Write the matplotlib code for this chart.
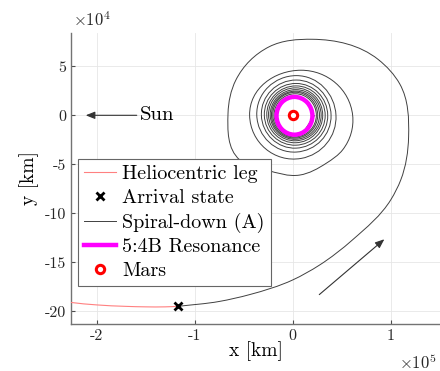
import numpy as np
import matplotlib

matplotlib.use("Agg")
import matplotlib.pyplot as plt
from matplotlib.path import Path
from matplotlib.patches import PathPatch, Ellipse
from matplotlib.lines import Line2D
from matplotlib.ticker import MultipleLocator, FuncFormatter

plt.rcParams["font.family"] = "cmr10"
plt.rcParams["mathtext.fontset"] = "cm"
plt.rcParams["axes.unicode_minus"] = False

UNIT = 1e4  # waypoints below are in 1e4 km

# heliocentric leg up to the arrival state
helio_x = [-24.0, -22.6, -20.0, -17.0, -15.0, -13.0, -11.7]
helio_y = [-18.9, -19.1, -19.35, -19.5, -19.55, -19.55, -19.5]
arrival_x = -11.7
arrival_y = -19.5

# capture arc and first revolution of the spiral-down
capture_x = [-11.7, -7.5, -4.4, 0.0, 2.7, 6.1, 10.0, 11.0, 11.8, 10.9, 8.7,
             2.0, -2.4, -5.8, -6.6, -5.4, -2.7, 0.7, 3.4, 5.1]
capture_y = [-19.5, -19.0, -18.3, -16.8, -15.3, -12.7, -8.6, -6.6, -2.2, 3.2, 5.7,
             7.76, 7.0, 3.6, 0.2, -4.56, -5.58, -6.1, -4.9, -3.5]

# later revolutions: extent to the right / top / left / bottom of Mars
rev_right = [6.1, 4.4, 3.9, 3.56, 3.3, 3.05, 2.89, 2.72, 2.54, 2.4, 2.25]
rev_top = [4.6, 4.05, 3.6, 3.25, 3.0, 2.8, 2.62, 2.47, 2.35, 2.2]
rev_left = [4.4, 3.67, 3.2, 2.9, 2.65, 2.47, 2.3, 2.17, 2.04, 1.9]
rev_bottom = [4.4, 3.75, 3.35, 3.05, 2.8, 2.6, 2.45, 2.32, 2.2, 2.07]

# 5:4B resonant orbit (centre, semi-axes)
res_center = (0.17, -0.05)
res_a = 1.83
res_b = 1.93

# annotation arrows (tail, head)
sun_tail = (-15.9, 0.0)
sun_head = (-21.1, 0.0)
dir_tail = (2.7, -18.3)
dir_head = (9.33, -12.65)


def wrap(a):
    return (a + np.pi) % (2 * np.pi) - np.pi


def smooth_path(x, y):
    """G1 cubic Bezier path through the waypoints (circular-arc handles)."""
    p = np.column_stack([x, y]) * UNIT
    n = len(p)
    d = np.diff(p, axis=0)
    seg_len = np.linalg.norm(d, axis=1)
    seg_ang = np.arctan2(d[:, 1], d[:, 0])
    tang_ang = np.empty(n)
    tang_ang[0] = seg_ang[0]
    tang_ang[-1] = seg_ang[-1]
    for i in range(1, n - 1):
        turn = wrap(seg_ang[i] - seg_ang[i - 1])
        w = seg_len[i - 1] / (seg_len[i - 1] + seg_len[i])
        tang_ang[i] = seg_ang[i - 1] + turn * w
    tang = np.column_stack([np.cos(tang_ang), np.sin(tang_ang)])

    verts = [p[0]]
    codes = [Path.MOVETO]
    for i in range(n - 1):
        phi = abs(wrap(tang_ang[i] - seg_ang[i])) + abs(wrap(tang_ang[i + 1] - seg_ang[i]))
        if phi > 1e-6:
            h = seg_len[i] * (2 / 3) * np.tan(phi / 4) / np.sin(phi / 2)
        else:
            h = seg_len[i] / 3
        verts += [p[i] + tang[i] * h, p[i + 1] - tang[i + 1] * h, p[i + 1]]
        codes += [Path.CURVE4] * 3
    return Path(verts, codes)


# waypoints of the inner revolutions
spiral_x = list(capture_x)
spiral_y = list(capture_y)
for k in range(len(rev_left)):
    c = (rev_right[k] - rev_left[k]) / 2
    spiral_x += [rev_right[k], c, -rev_left[k], c]
    spiral_y += [0.0, rev_top[k], 0.0, -rev_bottom[k]]
spiral_x.append(rev_right[-1])
spiral_y.append(0.0)

helio_color = (1.0, 0.5, 0.5)
spiral_color = "0.25"

fig = plt.figure(figsize=(4.4, 3.71), dpi=100)
ax = fig.add_axes([71 / 440, 1 - 324 / 371, 369 / 440, 291 / 371])

ax.add_patch(PathPatch(smooth_path(spiral_x, spiral_y), fill=False,
                       edgecolor=spiral_color, lw=0.7, zorder=3))
ax.add_patch(PathPatch(smooth_path(helio_x, helio_y), fill=False,
                       edgecolor=helio_color, lw=0.8, zorder=3))
ax.add_patch(Ellipse((res_center[0] * UNIT, res_center[1] * UNIT),
                     2 * res_a * UNIT, 2 * res_b * UNIT, fill=False,
                     edgecolor="#ff00ff", lw=3.2, zorder=4))
ax.plot(0, 0, "o", ms=6, mfc="white", mec="red", mew=2.2, zorder=5)
ax.plot(arrival_x * UNIT, arrival_y * UNIT, "x", color="black", ms=5.5,
        mew=2, zorder=6)

arrow_kw = dict(arrowstyle="-|>,head_length=0.55,head_width=0.22",
                color="0.2", lw=0.8, shrinkA=0, shrinkB=0)
ax.annotate("", xy=(sun_head[0] * UNIT, sun_head[1] * UNIT),
            xytext=(sun_tail[0] * UNIT, sun_tail[1] * UNIT), arrowprops=arrow_kw)
ax.text((sun_tail[0] + 0.3) * UNIT, sun_tail[1] * UNIT, "Sun", fontsize=15,
        ha="left", va="center")
ax.annotate("", xy=(dir_head[0] * UNIT, dir_head[1] * UNIT),
            xytext=(dir_tail[0] * UNIT, dir_tail[1] * UNIT), arrowprops=arrow_kw)

ax.set_xlim(-2.26e5, 1.5e5)
ax.set_ylim(-2.13e5, 0.84e5)
ax.xaxis.set_major_locator(MultipleLocator(1e5))
ax.yaxis.set_major_locator(MultipleLocator(5e4))
ax.xaxis.set_major_formatter(FuncFormatter(lambda v, _: f"{v / 1e5:g}"))
ax.yaxis.set_major_formatter(FuncFormatter(lambda v, _: f"{v / 1e4:g}"))
ax.tick_params(labelsize=11.5, direction="in", length=3, color="0.3",
               labelcolor="0.15")
ax.grid(True, color="0.9", lw=0.6)
ax.set_axisbelow(True)
for side in ("top", "right"):
    ax.spines[side].set_visible(False)
for side in ("left", "bottom"):
    ax.spines[side].set_color("0.45")
    ax.spines[side].set_linewidth(1.0)

ax.text(0.005, 1.015, r"$\times10^{4}$", transform=ax.transAxes, fontsize=12,
        ha="left", va="bottom", color="0.15")
ax.text(0.99, -0.13, r"$\times10^{5}$", transform=ax.transAxes, fontsize=12,
        ha="right", va="center", color="0.15")
ax.set_xlabel("x [km]", fontsize=14)
ax.xaxis.set_label_coords(0.5, -0.06, transform=ax.transAxes)
ax.set_ylabel("y [km]", fontsize=14)

handles = [
    Line2D([], [], color=helio_color, lw=0.8),
    Line2D([], [], ls="none", marker="x", color="black", ms=5.5, mew=2),
    Line2D([], [], color=spiral_color, lw=0.7),
    Line2D([], [], color="#ff00ff", lw=3.2),
    Line2D([], [], ls="none", marker="o", ms=6, mfc="white", mec="red", mew=2.2),
]
labels = ["Heliocentric leg", "Arrival state", "Spiral-down (A)",
          "5:4B Resonance", "Mars"]
leg = ax.legend(handles, labels, loc="upper left", bbox_to_anchor=(7 / 369, 1 - 126 / 291),
                fontsize=14.5, frameon=True, fancybox=False, framealpha=1,
                edgecolor="0.4", handlelength=1.6, handletextpad=0.3,
                labelspacing=0.28, borderpad=0.3, borderaxespad=0)
leg.get_frame().set_linewidth(0.8)
leg.set_zorder(10)

fig.savefig("out.png", dpi=100)
